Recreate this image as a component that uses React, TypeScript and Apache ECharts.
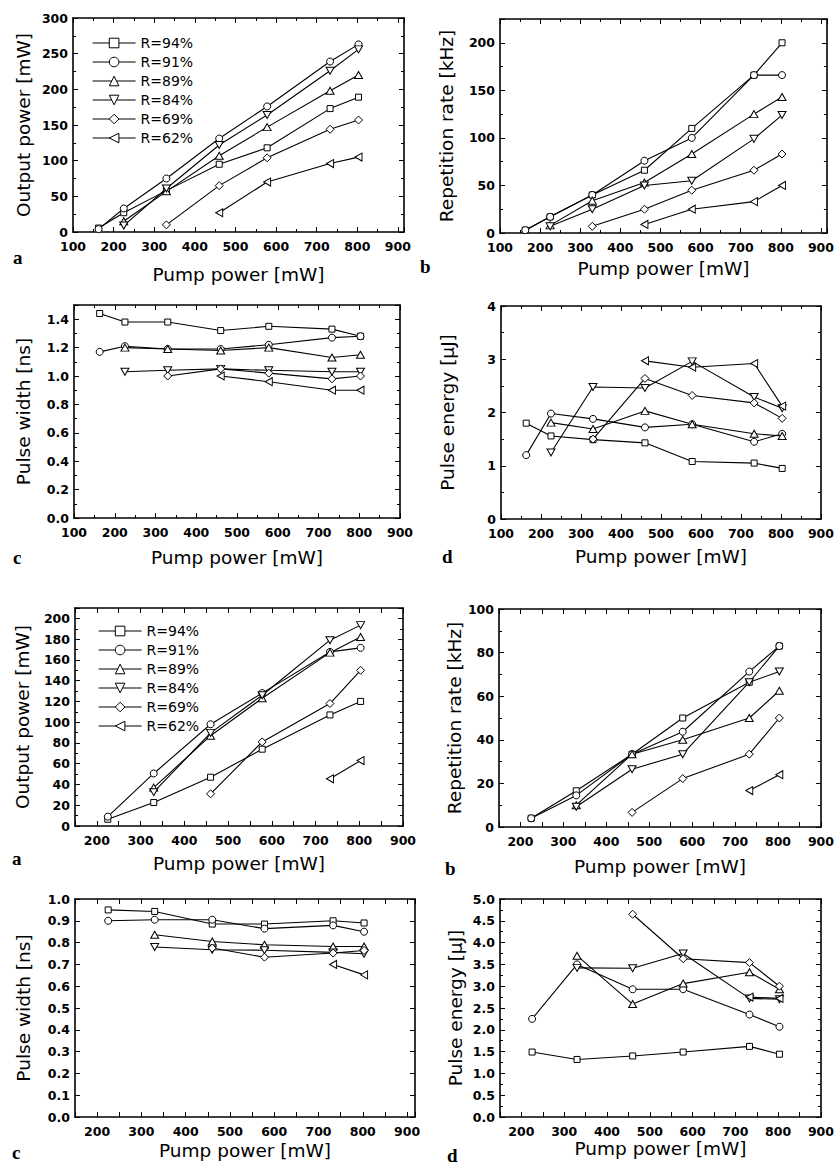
import React, { useEffect, useRef } from "react";
import * as echarts from "echarts";

const SERIES_NAMES = ["R=94%", "R=91%", "R=89%", "R=84%", "R=69%", "R=62%"];
const SYMBOLS = ["rect", "circle", "triangle", "triangle", "diamond", "triangle"];
const SYMBOL_ROTATE = [0, 0, 0, 180, 0, 90];
const SYMBOL_SIZE: any[] = [6, 7, [8, 7], [8, 7], [8, 8], [8, 7]];

// ---- upper figure (a-d) ----
const PUMP_1 = [163, 225, 330, 460, 578, 733, 803];
const OUTPUT_1: (number | null)[][] = [
  [5.5, 27, 58, 95, 118, 173, 189],
  [4, 33, 75, 131, 176, 239, 263],
  [null, 15, 57, 107, 147, 198, 220],
  [null, 9, 61, 122, 164, 226, 256],
  [null, null, 10, 65, 104, 144, 157],
  [null, null, null, 27, 70, 96, 105],
];
const REPRATE_1: (number | null)[][] = [
  [3, 17, 40, 66, 110, 166, 200],
  [3, 17, 40, 76, 100, 166, 166],
  [null, 8, 34, 53, 83, 125, 143],
  [null, 7, 25, 50, 55, 99, 124],
  [null, null, 7, 25, 45, 66, 83],
  [null, null, null, 9, 25, 33, 50],
];
const WIDTH_1: (number | null)[][] = [
  [1.44, 1.38, 1.38, 1.32, 1.35, 1.33, 1.28],
  [1.17, 1.21, 1.19, 1.19, 1.22, 1.27, 1.28],
  [null, 1.2, 1.19, 1.18, 1.2, 1.13, 1.15],
  [null, 1.03, 1.04, 1.05, 1.04, 1.03, 1.03],
  [null, null, 1.0, 1.05, 1.02, 0.98, 1.0],
  [null, null, null, 1.0, 0.96, 0.9, 0.9],
];
const ENERGY_1: (number | null)[][] = [
  [1.8, 1.56, 1.49, 1.43, 1.08, 1.05, 0.95],
  [1.2, 1.98, 1.88, 1.72, 1.78, 1.45, 1.6],
  [null, 1.81, 1.69, 2.03, 1.78, 1.6, 1.56],
  [null, 1.25, 2.48, 2.46, 2.96, 2.29, 2.08],
  [null, null, 1.5, 2.64, 2.32, 2.18, 1.89],
  [null, null, null, 2.97, 2.85, 2.92, 2.12],
];

// ---- lower figure (a-d) ----
const PUMP_2 = [225, 330, 460, 578, 733, 803];
const OUTPUT_2: (number | null)[][] = [
  [6.5, 22.6, 47, 74, 107, 120],
  [9, 50.6, 98, 128, 167.7, 171.6],
  [null, 37, 87, 123, 167, 182],
  [null, 32.6, 89.7, 126, 179, 193.5],
  [null, null, 31, 81, 118, 150],
  [null, null, null, null, 45.5, 63],
];
const REPRATE_2: (number | null)[][] = [
  [4, 16.6, 33.4, 50, 66.4, 83],
  [4, 14.5, 33.4, 43.7, 71.3, 83],
  [null, 10, 33.4, 40, 50, 62.5],
  [null, 9.3, 26.5, 33.4, 66.4, 71.3],
  [null, null, 6.7, 22.2, 33.4, 50],
  [null, null, null, null, 16.7, 24],
];
const WIDTH_2: (number | null)[][] = [
  [0.95, 0.943, 0.885, 0.885, 0.9, 0.89],
  [0.9, 0.905, 0.905, 0.864, 0.879, 0.85],
  [null, 0.836, 0.805, 0.79, 0.782, 0.782],
  [null, 0.78, 0.767, 0.765, 0.755, 0.749],
  [null, null, 0.775, 0.733, 0.752, 0.764],
  [null, null, null, null, 0.7, 0.652],
];
const ENERGY_2: (number | null)[][] = [
  [1.49, 1.32, 1.4, 1.49, 1.62, 1.44],
  [2.25, 3.5, 2.93, 2.93, 2.35, 2.07],
  [null, 3.7, 2.59, 3.06, 3.32, 2.93],
  [null, 3.42, 3.41, 3.75, 2.72, 2.7],
  [null, null, 4.65, 3.63, 3.54, 3.0],
  [null, null, null, null, 2.75, 2.72],
];

const X_TITLE = "Pump power [mW]";
const Y_TITLES = ["Output power [mW]", "Repetition rate [kHz]", "Pulse width [ns]", "Pulse energy [\u03bcJ]"];

type Panel = {
  box: [number, number, number, number];
  xMin: number; xMax: number; xInterval: number; xMinor: boolean;
  yMax: number; yInterval: number; yDec: number; yMinor: number;
  yName: string; yGap: number; xGap: number;
  pump: number[]; values: (number | null)[][];
  letter: string; lx: number; ly: number;
};

const PANELS: Panel[] = [
  { box: [73, 18, 404, 232], xMin: 100, xMax: 915, xInterval: 100, xMinor: true, yMax: 300, yInterval: 50, yDec: 0, yMinor: 2, yName: Y_TITLES[0], yGap: 40, xGap: 33, pump: PUMP_1, values: OUTPUT_1, letter: "a", lx: 13, ly: 257 },
  { box: [500, 19, 834, 233], xMin: 100, xMax: 915, xInterval: 100, xMinor: true, yMax: 225, yInterval: 50, yDec: 0, yMinor: 2, yName: Y_TITLES[1], yGap: 44, xGap: 26, pump: PUMP_1, values: REPRATE_1, letter: "b", lx: 420, ly: 266 },
  { box: [74, 305, 400, 518], xMin: 100, xMax: 900, xInterval: 100, xMinor: true, yMax: 1.5, yInterval: 0.2, yDec: 1, yMinor: 2, yName: Y_TITLES[2], yGap: 41, xGap: 30, pump: PUMP_1, values: WIDTH_1, letter: "c", lx: 13, ly: 557 },
  { box: [501, 306, 825, 519], xMin: 100, xMax: 900, xInterval: 100, xMinor: true, yMax: 4, yInterval: 1, yDec: 0, yMinor: 2, yName: Y_TITLES[3], yGap: 44, xGap: 28, pump: PUMP_1, values: ENERGY_1, letter: "d", lx: 442, ly: 556 },
  { box: [75, 608, 403, 826], xMin: 150, xMax: 900, xInterval: 50, xMinor: false, yMax: 210, yInterval: 20, yDec: 0, yMinor: 2, yName: Y_TITLES[0], yGap: 43, xGap: 28, pump: PUMP_2, values: OUTPUT_2, letter: "a", lx: 12, ly: 858 },
  { box: [499, 609, 827, 827], xMin: 150, xMax: 900, xInterval: 50, xMinor: false, yMax: 100, yInterval: 20, yDec: 0, yMinor: 2, yName: Y_TITLES[1], yGap: 35, xGap: 30, pump: PUMP_2, values: REPRATE_2, letter: "b", lx: 445, ly: 868 },
  { box: [75, 899, 415, 1117], xMin: 150, xMax: 918, xInterval: 50, xMinor: false, yMax: 1.0, yInterval: 0.1, yDec: 1, yMinor: 1, yName: Y_TITLES[2], yGap: 42, xGap: 24, pump: PUMP_2, values: WIDTH_2, letter: "c", lx: 12, ly: 1152 },
  { box: [500, 899, 827, 1117], xMin: 150, xMax: 900, xInterval: 50, xMinor: false, yMax: 5.0, yInterval: 0.5, yDec: 1, yMinor: 2, yName: Y_TITLES[3], yGap: 35, xGap: 22, pump: PUMP_2, values: ENERGY_2, letter: "d", lx: 447, ly: 1155 },
];

const SANS = "'DejaVu Sans', sans-serif";

function labelFormatter(step: number, dec: number, limit: number) {
  return (v: number) => {
    const k = v / step;
    if (Math.abs(k - Math.round(k)) > 1e-6) return "";
    if (v > limit + 1e-9) return "";
    return v.toFixed(dec);
  };
}

function buildOption() {
  const grid: any[] = [];
  const xAxis: any[] = [];
  const yAxis: any[] = [];
  const series: any[] = [];
  const graphic: any[] = [];
  const axisLine = { show: true, onZero: false, lineStyle: { color: "#000", width: 1.6 } };
  const tick = { show: true, inside: true, length: 5, lineStyle: { color: "#000", width: 1 } };
  const minor = (n: number) =>
    n > 1 ? { show: true, splitNumber: n, length: 3, lineStyle: { color: "#000", width: 1 } } : { show: false };
  const labelStyle = { color: "#000", fontFamily: SANS, fontWeight: "bold", fontSize: 12.5 };
  const nameStyle = { color: "#000", fontFamily: SANS, fontSize: 18.5 };

  PANELS.forEach((p, i) => {
    const [l, t, r, b] = p.box;
    grid.push({ left: l, top: t, width: r - l, height: b - t, containLabel: false });
    const xBase = {
      type: "value", gridIndex: i, min: p.xMin, max: p.xMax, interval: p.xInterval,
      axisLine, axisTick: tick, minorTick: minor(p.xMinor ? 2 : 1),
      splitLine: { show: false }, minorSplitLine: { show: false },
    };
    xAxis.push({
      ...xBase, position: "bottom",
      axisLabel: { ...labelStyle, margin: 8, formatter: labelFormatter(100, 0, 900) },
      name: X_TITLE, nameLocation: "middle", nameGap: p.xGap, nameTextStyle: nameStyle,
    });
    xAxis.push({ ...xBase, position: "top", axisLabel: { show: false } });
    const yBase = {
      type: "value", gridIndex: i, min: 0, max: p.yMax, interval: p.yInterval,
      axisLine, axisTick: tick, minorTick: minor(p.yMinor),
      splitLine: { show: false }, minorSplitLine: { show: false },
    };
    yAxis.push({
      ...yBase, position: "left",
      axisLabel: { ...labelStyle, margin: 5, formatter: labelFormatter(p.yInterval, p.yDec, p.yMax) },
      name: p.yName, nameLocation: "middle", nameGap: p.yGap, nameTextStyle: nameStyle,
    });
    yAxis.push({ ...yBase, position: "right", axisLabel: { show: false } });

    p.values.forEach((row, s) => {
      const data: number[][] = [];
      row.forEach((v, k) => {
        if (v !== null) data.push([p.pump[k], v]);
      });
      series.push({
        type: "line", name: SERIES_NAMES[s], xAxisIndex: 2 * i, yAxisIndex: 2 * i,
        data, symbol: SYMBOLS[s], symbolRotate: SYMBOL_ROTATE[s], symbolSize: SYMBOL_SIZE[s],
        showSymbol: true, showAllSymbol: true, silent: true,
        lineStyle: { color: "#000", width: 1.1 },
        itemStyle: { color: "#fff", borderColor: "#000", borderWidth: 1 },
        emphasis: { disabled: true },
      });
    });

    graphic.push({
      type: "text", x: p.lx, y: p.ly,
      style: { text: p.letter, fill: "#000", font: "bold 19px 'Liberation Serif', serif", verticalAlign: "middle" },
    });
  });

  const legendBase = {
    orient: "vertical", itemWidth: 43, itemHeight: 12, itemGap: 5, selectedMode: false,
    data: SERIES_NAMES, symbolRotate: "inherit",
    textStyle: { color: "#000", fontFamily: SANS, fontSize: 14 },
    itemStyle: { borderWidth: 1, borderColor: "#000", color: "#fff" },
    lineStyle: { width: 1.2, color: "#000" },
  };

  return {
    animation: false,
    backgroundColor: "#fff",
    grid, xAxis, yAxis, series, graphic,
    legend: [
      { ...legendBase, left: 87, top: 31 },
      { ...legendBase, left: 93, top: 619 },
    ],
  };
}

export default function App() {
  const ref = useRef<HTMLDivElement>(null);
  useEffect(() => {
    if (!ref.current) return;
    const chart = echarts.init(ref.current, undefined, { renderer: "svg" });
    chart.setOption(buildOption() as any);
    return () => chart.dispose();
  }, []);
  return (
    <div
      ref={ref}
      style={{ position: "absolute", left: 0, top: 0, width: 837, height: 1169, background: "#fff" }}
    />
  );
}
